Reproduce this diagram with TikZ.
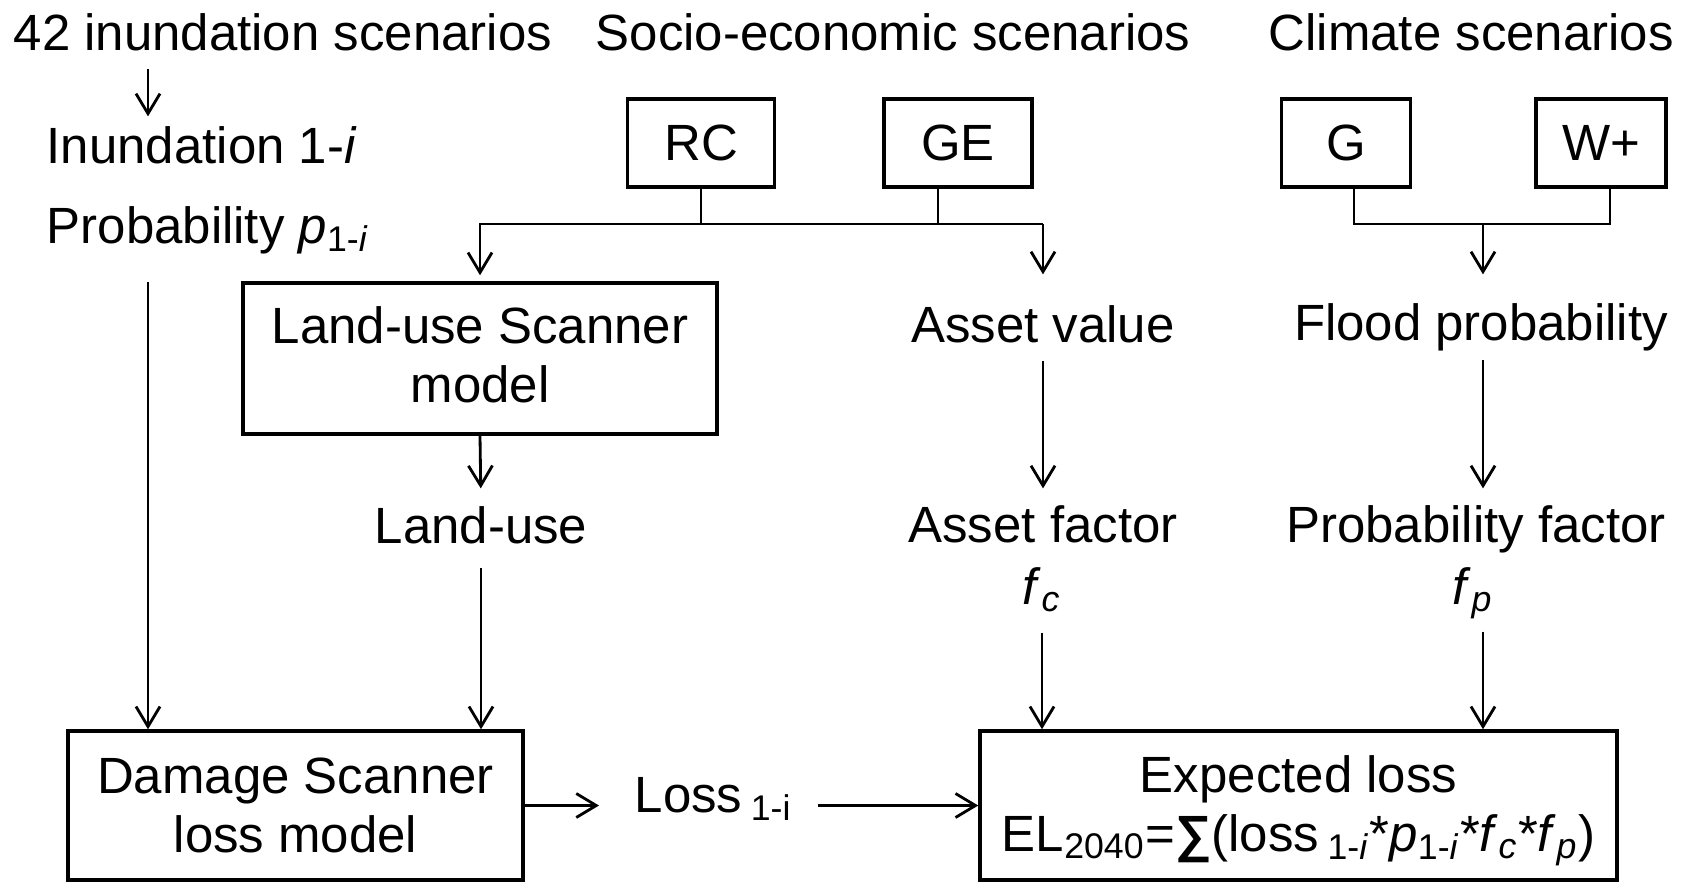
\documentclass[tikz,border=0pt]{standalone}
\usepackage{fontspec}
\setmainfont{Liberation Sans}
\usepackage{tikz}
\usetikzlibrary{arrows.meta}

\begin{document}
\begin{tikzpicture}[
    lbl/.style={inner sep=0pt, align=center, font=\fontsize{14.5pt}{16.7pt}\selectfont},
    box/.style={draw, line width=1pt, inner sep=0pt, align=center,
      font=\fontsize{14.5pt}{16.7pt}\selectfont},
    arr/.style={line width=0.8pt, -{Straight Barb[length=2mm,width=2.4mm,line width=0.8pt]}},
    bus/.style={line width=0.8pt}
  ]
          \useasboundingbox (0,0) rectangle (16.86,-8.83);

          % Headings
          \node[lbl, anchor=base west] (inund) at (0.13,-0.50) {42 inundation scenarios};
          \node[lbl, anchor=base west] (socio) at (5.95,-0.50) {Socio-economic scenarios};
          \node[lbl, anchor=base west] (clim) at (12.68,-0.50) {Climate scenarios};

          \node[lbl, anchor=base west] (inun) at (0.46,-1.63) {Inundation 1-\textit{i}};
          \node[lbl, anchor=base west] (prob) at (0.46,-2.43)
            {Probability \textit{p}\textsubscript{1-\textit{i}}};

          % Scenario boxes
          \node[box, minimum width=1.47cm, minimum height=0.88cm] (rc) at (7.01,-1.43) {RC};
          \node[box, minimum width=1.48cm, minimum height=0.88cm] (ge) at (9.58,-1.43) {GE};
          \node[box, minimum width=1.29cm, minimum height=0.88cm] (g) at (13.46,-1.43) {G};
          \node[box, minimum width=1.30cm, minimum height=0.88cm] (wp) at (16.01,-1.43) {W+};

          % Middle
          \node[box, minimum width=4.74cm, minimum height=1.51cm] (lus) at (4.80,-3.585)
            {Land-use Scanner\\model\rule[-0.8mm]{0pt}{0pt}};
          \node[lbl, anchor=base] (asset) at (10.43,-3.42) {Asset value};
          \node[lbl, anchor=base] (flood) at (14.81,-3.40) {Flood probability};
          \node[lbl, anchor=base] (landuse) at (4.81,-5.43) {Land-use};
          \node[lbl, anchor=base] (assetf) at (10.43,-5.42) {Asset factor};
          \node[lbl, anchor=base] (probf) at (14.76,-5.42) {Probability factor};
          \node[lbl, anchor=base] (fc) at (10.42,-6.04) {\textit{f}\textsubscript{\textit{c}}};
          \node[lbl, anchor=base] (fp) at (14.73,-6.04) {\textit{f}\textsubscript{\textit{p}}};

          % Bottom
          \node[box, minimum width=4.55cm, minimum height=1.49cm] (dmg) at (2.955,-8.055)
            {Damage Scanner\\loss model};
          \node[lbl, anchor=base west] (loss) at (6.34,-8.12) {Loss\,\textsubscript{1-i}};
          \node[box, minimum width=6.37cm, minimum height=1.49cm] (el) at (12.985,-8.055)
            {\rule{0pt}{4.8mm}Expected loss\\EL\textsubscript{2040}={\bfseries ∑}(loss\,\textsubscript{1-\textit{i}}*\textit{p}\textsubscript{1-\textit{i}}*\textit{f}\textsubscript{\textit{c}}*\textit{f}\textsubscript{\textit{p}})};

          \coordinate (colA) at (1.48,0);
          \coordinate (colC) at (14.83,0);
          \coordinate (sebus) at (0,-2.24);
          \coordinate (clbus) at (0,-2.24);

          % Connectors
          \draw[arr, shorten <=1.8mm, shorten >=0.9mm] (inund.south -| colA) -- (inun.north -| colA);
          \draw[arr, shorten <=2.8mm] (prob.south -| colA) -- (dmg.north -| colA);

          \draw[bus] (rc.south) -- (rc.south |- sebus);
          \draw[bus] ([xshift=-2mm]ge.south) -- ([xshift=-2mm]ge.south |- sebus);
          \draw[arr, shorten >=0.6mm] (asset.north |- sebus) -- (lus.north |- sebus) -- (lus.north);
          \draw[arr, shorten >=3mm] (asset.north |- sebus) -- (asset.north);

          \draw[bus] ([xshift=0.8mm]g.south) |- (clbus -| colC) -| ([xshift=0.9mm]wp.south);
          \draw[arr, shorten >=2.8mm] (clbus -| colC) -- (flood.north -| colC);

          \draw[arr, shorten >=1.7mm] (lus.south) -- (landuse.north);
          \draw[arr, shorten <=2.4mm] (landuse.south) -- (dmg.north -| landuse.south);
          \draw[arr, shorten <=1.8mm, shorten >=1.6mm] (asset.south) -- (assetf.north);
          \draw[arr, shorten <=0.9mm, shorten >=1.6mm] (flood.south -| colC) -- (probf.north -| colC);
          \draw[arr, shorten <=2mm] (fc.south) -- (el.north -| fc.south);
          \draw[arr, shorten <=1.2mm] (fp.south -| colC) -- (el.north -| colC);

          \draw[arr, shorten >=3.5mm] (dmg.east) -- (dmg.east -| loss.west);
          \draw[arr, shorten <=2.5mm] (el.west -| loss.east) -- (el.west);
        \end{tikzpicture}
\end{document}
